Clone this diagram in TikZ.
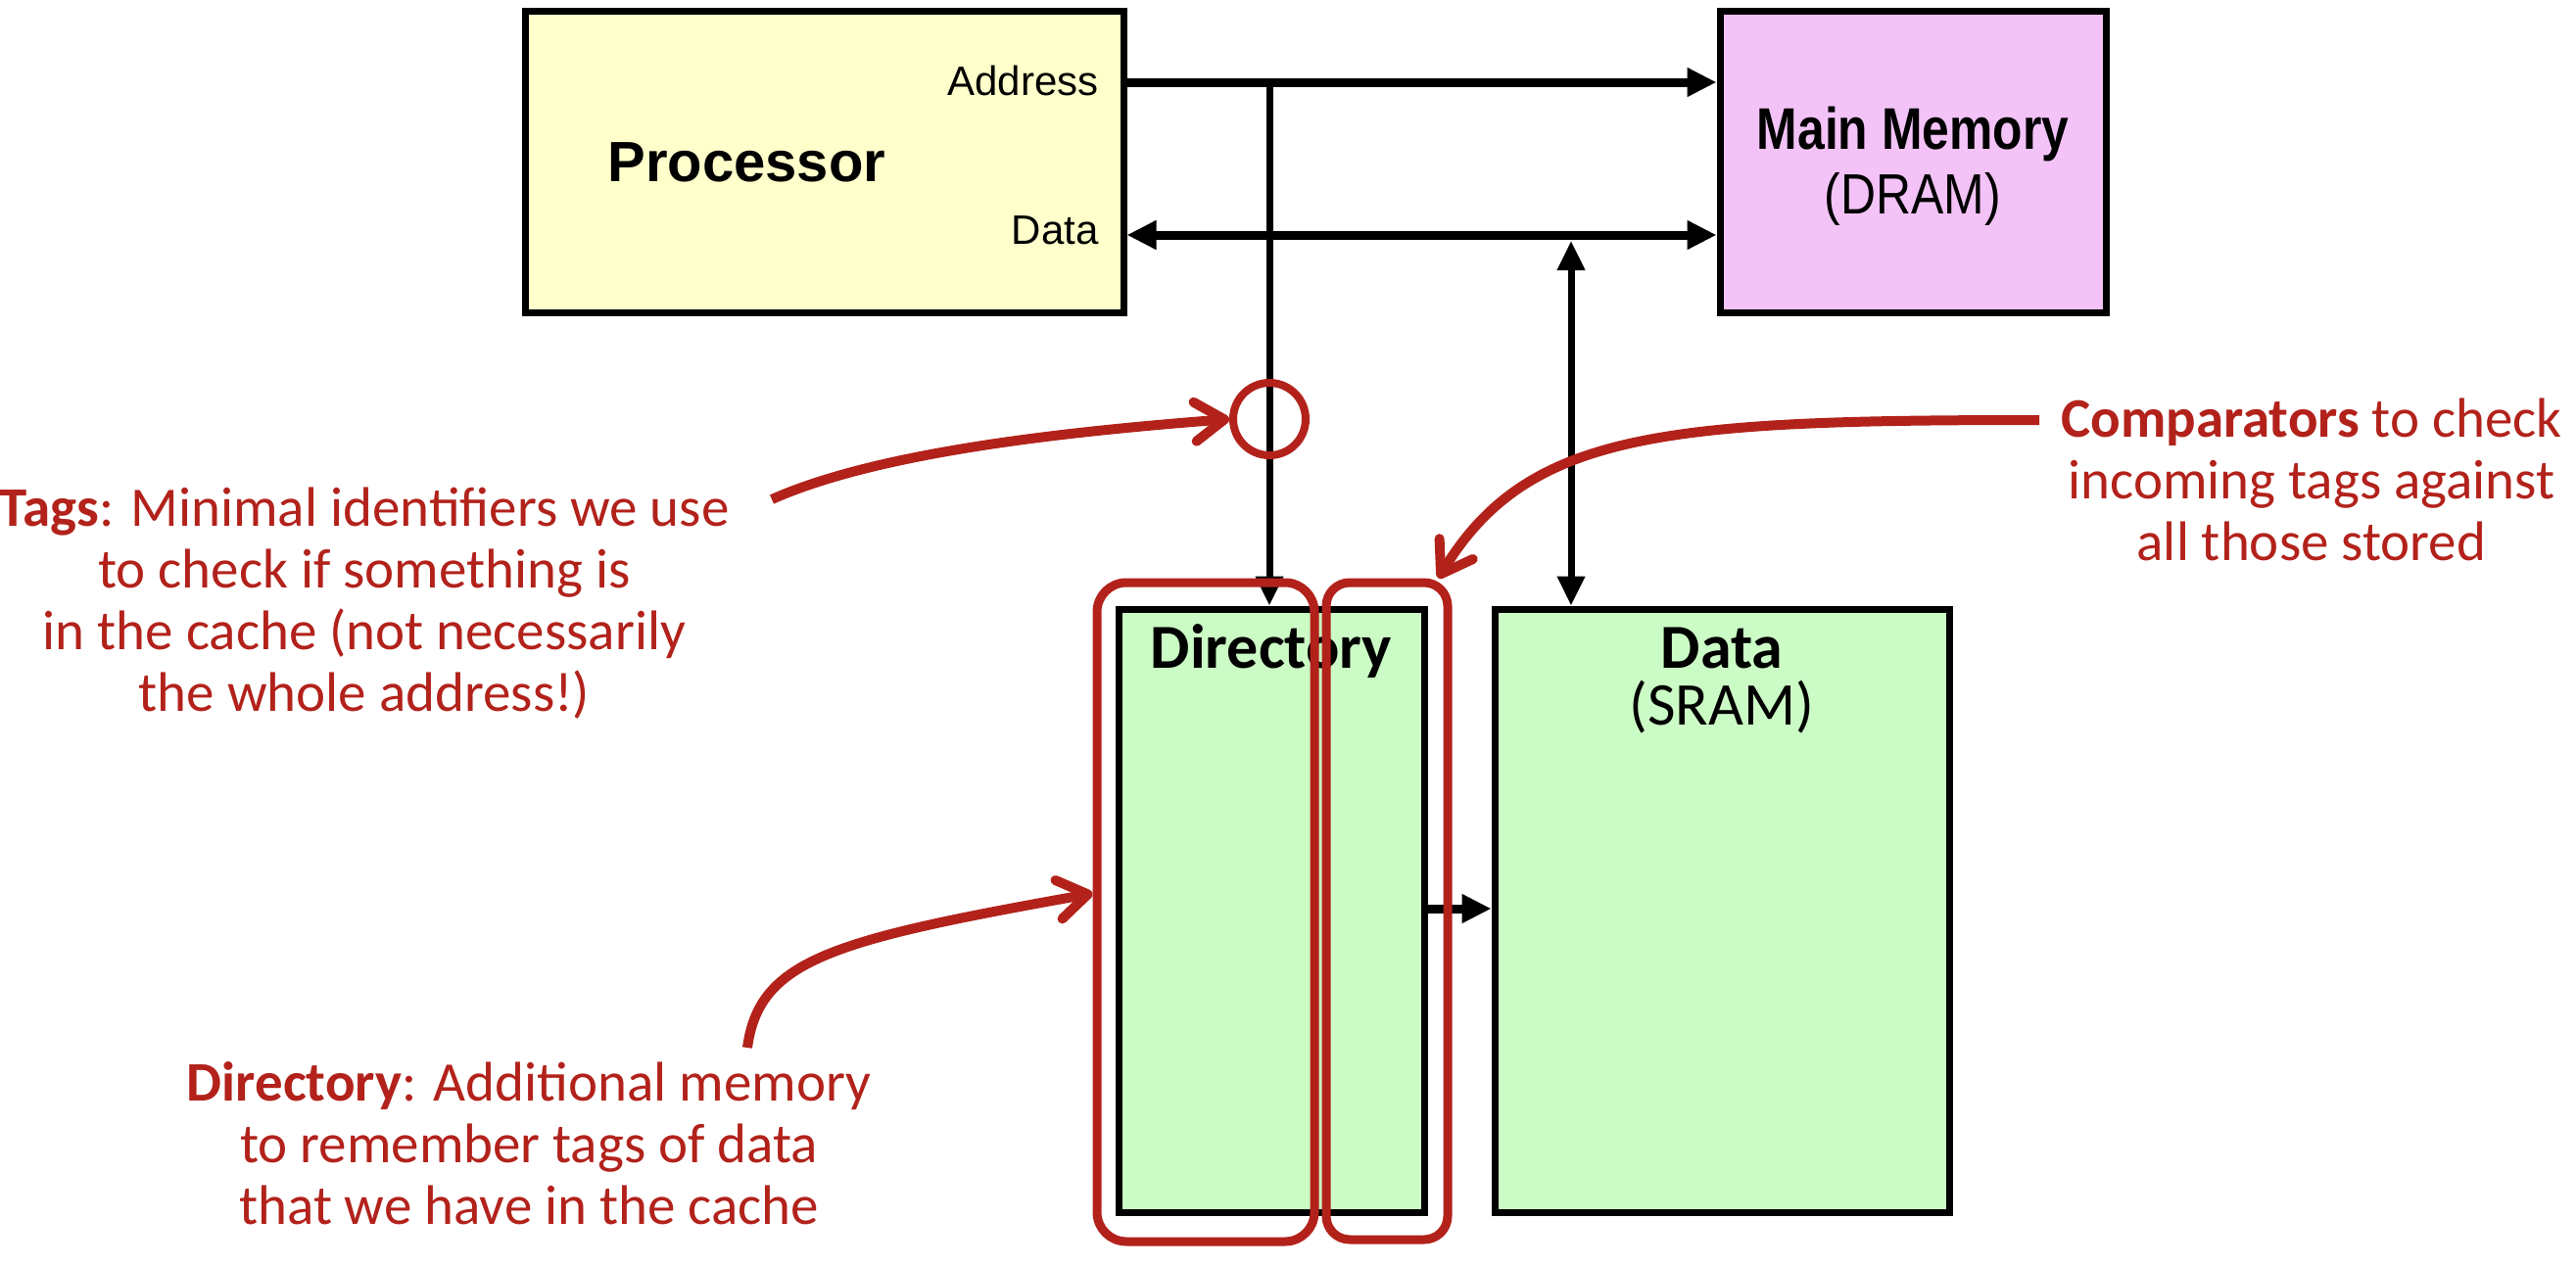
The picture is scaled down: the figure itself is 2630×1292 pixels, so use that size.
\documentclass[tikz,border=0pt]{standalone}
\usepackage{fontspec}
\setmainfont{Carlito}
\newfontfamily\helv{Liberation Sans}
\usetikzlibrary{arrows.meta,shapes.geometric}
\definecolor{annot}{RGB}{178,34,27}
\definecolor{procfill}{RGB}{255,255,204}
\definecolor{memfill}{RGB}{243,195,247}
\definecolor{cachefill}{RGB}{204,252,197}
\tikzset{
  tri/.tip={Triangle[length=15pt,width=14pt]},
  vtri/.tip={Triangle[length=15pt,width=13.5pt]},
  barb/.tip={Straight Barb[length=15pt,width=20pt,round]},
}
\begin{document}
\begin{tikzpicture}[x=0.5pt,y=-0.5pt,
  box/.style={draw=black,line width=3.5pt,inner sep=0pt},
  bus/.style={line width=4.5pt},
  wire/.style={line width=3.5pt},
  redarrow/.style={draw=annot,line width=5pt,-barb},
  ring/.style={draw=annot,line width=4.5pt,inner sep=0pt},
  redtext/.style={text=annot,align=center,inner sep=0pt,font=\fontsize{28.5pt}{31.5pt}\selectfont},
  helvlabel/.style={inner sep=0pt,font=\helv\fontsize{21pt}{25pt}\selectfont},
]
\useasboundingbox (0,0) rectangle (2630,1292);

% boxes
\node[box,fill=procfill,minimum width=305.5pt,minimum height=154pt] (proc) at (841.5,165) {};
\node[box,fill=memfill,minimum width=197pt,minimum height=154pt] (mem) at (1953,165) {};
\node[box,fill=cachefill,minimum width=156pt,minimum height=308pt] (dir) at (1298,930) {};
\node[box,fill=cachefill,minimum width=232pt,minimum height=308pt] (data) at (1758,930) {};

% box labels
\node[inner sep=0pt,anchor=base west,font=\helv\bfseries\fontsize{29pt}{34pt}\selectfont] (proclabel) at (620,185) {Processor};
\node[helvlabel,anchor=base east] (addrlabel) at (1122,97) {Address};
\node[helvlabel,anchor=base east] (datalabel) at (1122,249) {Data};
\node[inner sep=0pt,anchor=base,font=\helv\bfseries\fontsize{30pt}{34pt}\selectfont] (memlabel) at (1953,152) {\scalebox{0.83}[1]{Main Memory}};
\node[inner sep=0pt,anchor=base,font=\helv\fontsize{29pt}{34pt}\selectfont] (dramlabel) at (1953,218) {\scalebox{0.86}[1]{(DRAM)}};
\node[inner sep=0pt,anchor=base,font=\bfseries\fontsize{32pt}{36pt}\selectfont] (dirlabel) at (1298,682) {Directory};
\node[inner sep=0pt,anchor=base,font=\bfseries\fontsize{32pt}{36pt}\selectfont] (datalab) at (1758,682) {Data};
\node[inner sep=0pt,anchor=base,font=\fontsize{31pt}{36pt}\selectfont] (sramlabel) at (1758,740) {(SRAM)};

% connectors
\coordinate (ay) at (0,84);
\coordinate (dy) at (0,240);
\coordinate (ab) at (1296,84);
\coordinate (dbtop) at (1604,246);
\coordinate (dd) at (0,928);
\draw[bus,-tri] (proc.east |- ay) -- (mem.west |- ay);
\draw[bus,tri-tri] (proc.east |- dy) -- (mem.west |- dy);
\draw[wire,-vtri] (ab) -- (ab |- dir.north);
\draw[wire,vtri-vtri] (dbtop) -- (dbtop |- data.north);
\draw[bus,-tri] (dir.east |- dd) -- (data.west |- dd);

% red annotations
\node[ring,circle,line width=4pt,minimum size=37pt] (tagc) at (1296,428) {};
\node[ring,rounded corners=15pt,minimum width=111pt,minimum height=336.5pt] (dirring) at (1231,931.5) {};
\node[ring,rounded corners=12pt,minimum width=62pt,minimum height=335.5pt] (cmpring) at (1416,930.5) {};

\node[redtext,anchor=base] (tagstext) at (372,726) {\textbf{Tags}: Minimal identifiers we use\\to check if something is\\in the cache (not necessarily\\the whole address!)};
\node[redtext,anchor=base] (cmptext) at (2360,572) {\textbf{Comparators} to check\\incoming tags against\\all those stored};
\node[redtext,anchor=base] (dirtext) at (540,1250) {\textbf{Directory}: Additional memory\\to remember tags of data\\that we have in the cache};

\coordinate (tagstart) at (788,510);
\coordinate (cmpstart) at (2082,429);
\coordinate (dirstart) at (763,1070);
\draw[redarrow] (tagstart) .. controls (900,460) and (1100,440) .. (tagc.west);
\draw[redarrow] (cmpstart) .. controls (1700,429) and (1560,440) .. ([xshift=-7pt]cmpring.north east);
\draw[redarrow] (dirstart) .. controls (775,980) and (850,960) .. ([yshift=9.5pt]dirring.west);
\end{tikzpicture}
\end{document}
